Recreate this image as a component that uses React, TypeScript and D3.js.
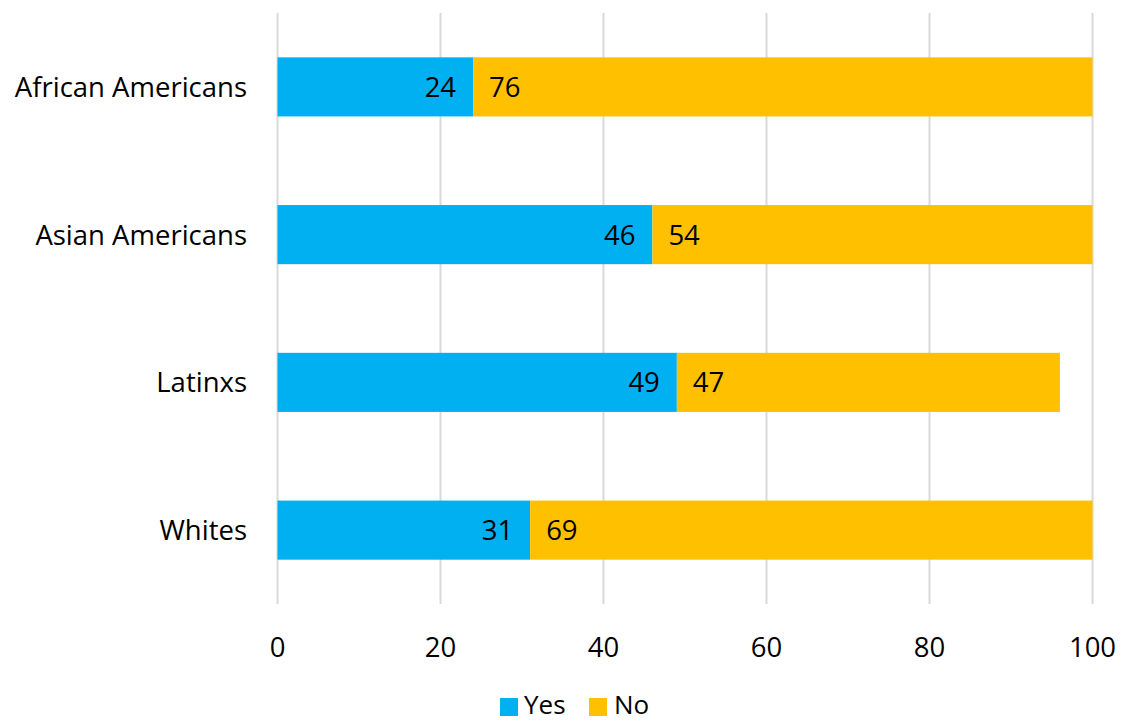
import React from "react";
import * as d3 from "d3";

const categories = ["African Americans", "Asian Americans", "Latinxs", "Whites"];
const yesValues = [24, 46, 49, 31];
const noValues = [76, 54, 47, 69];
const xTicks = [0, 20, 40, 60, 80, 100];
const seriesNames = ["Yes", "No"];
const seriesColors = ["#00B0F0", "#FFC000"];

const W = 1121;
const H = 721;
const FONT = "Open Sans, sans-serif";

export default function App() {
  const x = d3.scaleLinear().domain([0, 100]).range([277.5, 1092.5]);
  const y = d3.scaleBand<string>().domain(categories).range([13, 604]).paddingInner(0.6).paddingOuter(0.3);
  const fs = 27.5;
  const lfs = 26;

  return (
    <svg width={W} height={H} style={{ position: "absolute", left: 0, top: 0 }} fontFamily={FONT}>
      <rect width={W} height={H} fill="#fff" />
      {xTicks.map((t) => (
        <line key={t} x1={x(t)} x2={x(t)} y1={13} y2={604} stroke="#D9D9D9" strokeWidth={2} />
      ))}
      {categories.map((c, i) => {
        const y0 = y(c)!;
        const bh = y.bandwidth();
        const yes = yesValues[i];
        const no = noValues[i];
        return (
          <g key={c}>
            <rect x={x(0)} y={y0} width={x(yes) - x(0)} height={bh} fill={seriesColors[0]} />
            <rect x={x(yes)} y={y0} width={x(yes + no) - x(yes)} height={bh} fill={seriesColors[1]} />
            <text x={x(yes) - 17} y={y0 + bh / 2} dy="0.36em" textAnchor="end" fontSize={fs} fill="#000">{yes}</text>
            <text x={x(yes) + 16} y={y0 + bh / 2} dy="0.36em" textAnchor="start" fontSize={fs} fill="#000">{no}</text>
            <text x={247} y={y0 + bh / 2} dy="0.36em" textAnchor="end" fontSize={fs} fill="#000">{c}</text>
          </g>
        );
      })}
      {xTicks.map((t) => (
        <text key={"l" + t} x={x(t)} y={647} dy="0.36em" textAnchor="middle" fontSize={fs} fill="#000">{t}</text>
      ))}
      <g>
        <rect x={500} y={698} width={18} height={18} fill={seriesColors[0]} />
        <text x={524} y={714} fontSize={lfs} fill="#000">{seriesNames[0]}</text>
        <rect x={589} y={698} width={18} height={18} fill={seriesColors[1]} />
        <text x={614} y={714} fontSize={lfs} fill="#000">{seriesNames[1]}</text>
      </g>
    </svg>
  );
}
